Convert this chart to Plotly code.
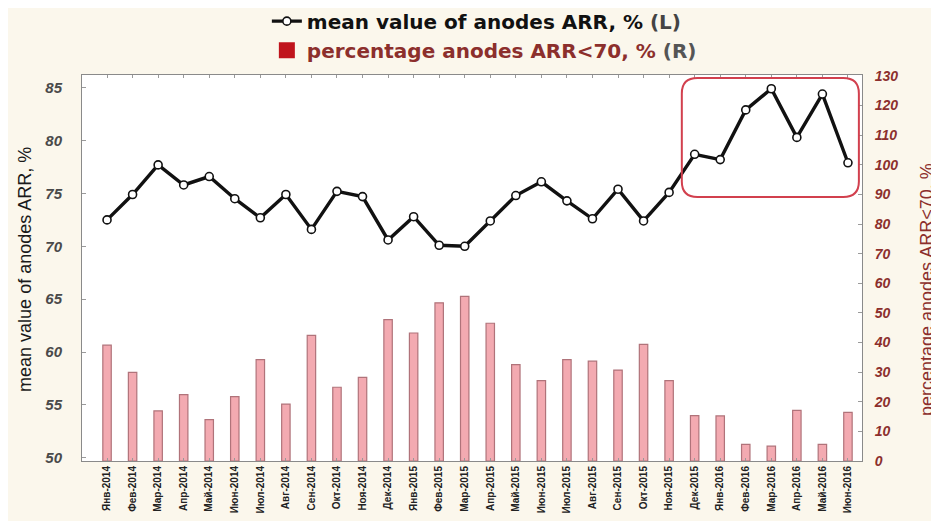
import plotly.graph_objects as go

months = ["Янв-2014", "Фев-2014", "Мар-2014", "Апр-2014", "Май-2014", "Июн-2014",
          "Июл-2014", "Авг-2014", "Сен-2014", "Окт-2014", "Ноя-2014", "Дек-2014",
          "Янв-2015", "Фев-2015", "Мар-2015", "Апр-2015", "Май-2015", "Июн-2015",
          "Июл-2015", "Авг-2015", "Сен-2015", "Окт-2015", "Ноя-2015", "Дек-2015",
          "Янв-2016", "Фев-2016", "Мар-2016", "Апр-2016", "Май-2016", "Июн-2016"]

# mean value of anodes ARR, % (left axis)
arr_mean = [72.5, 74.9, 77.7, 75.8, 76.6, 74.5, 72.7, 74.9, 71.6, 75.2,
            74.7, 70.6, 72.8, 70.1, 70.0, 72.4, 74.8, 76.1, 74.3, 72.6,
            75.4, 72.4, 75.1, 78.7, 78.2, 82.9, 84.9, 80.3, 84.4, 77.9]

# percentage of anodes with ARR<70, % (right axis)
pct_below70 = [39.1, 29.9, 16.9, 22.4, 14.0, 21.7, 34.2, 19.2, 42.4, 24.9,
               28.2, 47.7, 43.2, 53.4, 55.6, 46.5, 32.5, 27.1, 34.2, 33.7,
               30.7, 39.4, 27.1, 15.3, 15.2, 5.6, 5.0, 17.1, 5.6, 16.4]

left_ticks = [50, 55, 60, 65, 70, 75, 80, 85]
right_ticks = list(range(0, 131, 10))

DARK_RED = "#8c2f2c"
BAR_FILL = "#f3aab1"
BAR_EDGE = "#b0737a"
LEGEND_RED = "#c0141c"

fig = go.Figure()

fig.add_trace(go.Bar(
    x=months, y=pct_below70,
    yaxis="y2",
    width=0.33,
    marker=dict(color=BAR_FILL, line=dict(color=BAR_EDGE, width=1.2)),
    showlegend=False,
))

fig.add_trace(go.Scatter(
    x=months, y=arr_mean,
    mode="lines+markers",
    line=dict(color="#111111", width=3.4),
    marker=dict(symbol="circle", size=8, color="white",
                line=dict(color="#111111", width=1.6)),
    name="<b>mean value of anodes ARR, % <span style='color:#444'>(L)</span></b>",
))

# legend-only swatch for the bars (deep red in the reference legend)
fig.add_trace(go.Scatter(
    x=[None], y=[None], yaxis="y2",
    mode="markers",
    marker=dict(symbol="square", size=18, color=LEGEND_RED),
    name=f"<b><span style='color:{DARK_RED}'>percentage anodes ARR&lt;70, %</span>"
         " <span style='color:#555'>(R)</span></b>",
))

# highlight box around the last months
x0, x1, y0, y1 = 0.769, 0.996, 0.684, 0.992
rx, ry = 0.02, 0.04
box_path = (f"M {x0+rx},{y1} L {x1-rx},{y1} Q {x1},{y1} {x1},{y1-ry} "
            f"L {x1},{y0+ry} Q {x1},{y0} {x1-rx},{y0} "
            f"L {x0+rx},{y0} Q {x0},{y0} {x0},{y0+ry} "
            f"L {x0},{y1-ry} Q {x0},{y1} {x0+rx},{y1} Z")
fig.add_shape(type="path", path=box_path, xref="paper", yref="paper",
              line=dict(color="#d2404e", width=2), layer="above")

fig.add_annotation(text="mean value of anodes ARR, %", xref="paper", yref="paper",
                   x=0, y=0.495, xshift=-57, xanchor="center", yanchor="middle",
                   textangle=-90, showarrow=False,
                   font=dict(family="Liberation Sans", size=18, color="#1a1a1a"))
fig.add_annotation(text="percentage anodes ARR&lt;70, %", xref="paper", yref="paper",
                   x=1, y=0.443, xshift=65, xanchor="center", yanchor="middle",
                   textangle=-90, showarrow=False,
                   font=dict(family="Liberation Sans", size=18, color=DARK_RED))

# the page body adds an 8px margin, so the figure is 8px smaller each way
fig.update_layout(
    width=931, height=513,
    margin=dict(l=74, r=77, t=67, b=60, autoexpand=False),
    paper_bgcolor="#fbf7ec",
    plot_bgcolor="white",
    legend=dict(
        x=0.237, y=1.19, xanchor="left", yanchor="top",
        orientation="v",
        bgcolor="rgba(0,0,0,0)",
        font=dict(family="DejaVu Sans", size=20, color="#111111"),
        itemwidth=30,
        itemsizing="trace",
        tracegroupgap=0,
    ),
    xaxis=dict(
        type="category",
        range=[-0.98, 29.55],
        tickangle=-90,
        tickfont=dict(family="Liberation Sans", size=10, color="#222222", weight="bold"),
        showline=True, linecolor="#8a8a8a", linewidth=1, mirror="ticks",
        ticks="inside", ticklen=3, tickcolor="#9a9a9a",
        showgrid=False, zeroline=False,
    ),
    yaxis=dict(
        range=[49.7, 86.2],
        tickvals=left_ticks,
        tickfont=dict(family="Liberation Sans", size=15, color="#4a4a4a",
                      weight="bold", style="italic"),
        showline=True, linecolor="#8a8a8a", linewidth=1,
        ticks="inside", ticklen=4, tickcolor="#9a9a9a",
        ticklabelstandoff=16,
        showgrid=False, zeroline=False,
    ),
    yaxis2=dict(
        overlaying="y", side="right",
        range=[0, 130.3],
        tickvals=right_ticks,
        tickfont=dict(family="Liberation Sans", size=14, color=DARK_RED,
                      weight="bold", style="italic"),
        showline=True, linecolor="#8a8a8a", linewidth=1,
        ticks="inside", ticklen=4, tickcolor="#9a9a9a",
        ticklabelstandoff=9,
        showgrid=False, zeroline=False,
    ),
)

fig.write_html("out.html")
